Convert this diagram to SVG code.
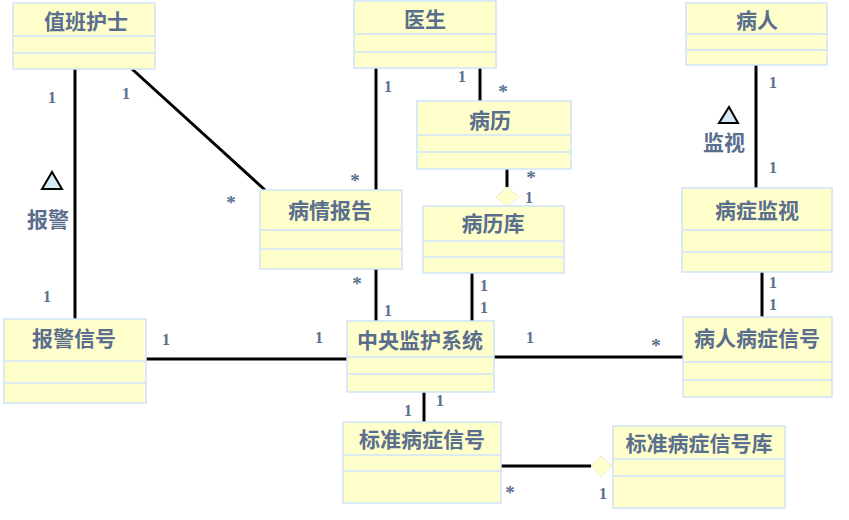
<svg xmlns="http://www.w3.org/2000/svg" width="849" height="520" viewBox="0 0 849 520">
<style>
.box{fill:#ffffcc;stroke:#cfe3f7;stroke-width:1.5}
.sep{stroke:#cfe3f7;stroke-width:1.5}
.t{font-family:"Noto Sans CJK SC","Noto Sans",sans-serif;font-size:21px;fill:#5a6e8e;text-anchor:middle;font-weight:bold}
.m{font-family:"Liberation Serif",serif;font-size:16px;font-weight:bold;fill:#5a6e8e;text-anchor:middle}
.s{font-size:19px}
.ln{stroke:#000;stroke-width:3;fill:none}
.tri{fill:#d6eaf8;stroke:#000;stroke-width:2}
.dia{fill:#ffffcc;stroke:#e8ecd0;stroke-width:1}
</style>
<rect width="849" height="520" fill="#fff"/>
<g id="connectors">
<line class="ln" x1="75" y1="69" x2="75" y2="319"/>
<line class="ln" x1="132" y1="69" x2="265" y2="190"/>
<line class="ln" x1="376" y1="68" x2="376" y2="190"/>
<line class="ln" x1="480" y1="68" x2="480" y2="101"/>
<line class="ln" x1="507" y1="169" x2="507" y2="187"/>
<polygon class="dia" points="507,187 519,197 507,207 496,197"/>
<line class="ln" x1="376" y1="269" x2="376" y2="321"/>
<line class="ln" x1="472" y1="273" x2="472" y2="321"/>
<line class="ln" x1="756" y1="65" x2="756" y2="188"/>
<line class="ln" x1="762" y1="272" x2="762" y2="317"/>
<line class="ln" x1="146" y1="359" x2="347" y2="359"/>
<line class="ln" x1="494" y1="357" x2="683" y2="357"/>
<line class="ln" x1="424" y1="392" x2="424" y2="422"/>
<line class="ln" x1="501" y1="466" x2="591" y2="466"/>
<polygon class="dia" points="591,466 601,456 612,466 601,477"/>
<polygon class="tri" points="52,172 62,189 42,189"/>
<text class="t" x="48" y="227">报警</text>
<polygon class="tri" points="729,107 738,123 719,123"/>
<text class="t" x="724" y="150">监视</text>
<text class="m" x="52" y="103">1</text>
<text class="m" x="126" y="99">1</text>
<text class="m" x="47" y="302">1</text>
<text class="m s" x="231" y="209">*</text>
<text class="m s" x="355" y="187">*</text>
<text class="m" x="388" y="92">1</text>
<text class="m" x="462" y="82">1</text>
<text class="m s" x="503" y="98">*</text>
<text class="m s" x="531" y="184">*</text>
<text class="m" x="529" y="203">1</text>
<text class="m s" x="357" y="290">*</text>
<text class="m" x="388" y="316">1</text>
<text class="m" x="484" y="291">1</text>
<text class="m" x="484" y="313">1</text>
<text class="m" x="166" y="345">1</text>
<text class="m" x="319" y="343">1</text>
<text class="m" x="773" y="88">1</text>
<text class="m" x="773" y="173">1</text>
<text class="m" x="773" y="288">1</text>
<text class="m" x="773" y="310">1</text>
<text class="m" x="530" y="343">1</text>
<text class="m s" x="656" y="352">*</text>
<text class="m" x="408" y="416">1</text>
<text class="m" x="440" y="406">1</text>
<text class="m s" x="510" y="499">*</text>
<text class="m" x="603" y="499">1</text>
</g>
<g id="n_zhibanhushi">
<rect class="box" x="13" y="3" width="142" height="66"/>
<line class="sep" x1="13" y1="36" x2="155" y2="36"/><line class="sep" x1="13" y1="53" x2="155" y2="53"/>
<text class="t" x="86" y="29">值班护士</text>
</g>
<g id="n_yisheng">
<rect class="box" x="354" y="1" width="142" height="67"/>
<line class="sep" x1="354" y1="34" x2="496" y2="34"/><line class="sep" x1="354" y1="52" x2="496" y2="52"/>
<text class="t" x="425" y="27">医生</text>
</g>
<g id="n_bingli">
<rect class="box" x="417" y="101" width="154" height="68"/>
<line class="sep" x1="417" y1="135" x2="571" y2="135"/><line class="sep" x1="417" y1="152" x2="571" y2="152"/>
<text class="t" x="490" y="128">病历</text>
</g>
<g id="n_binglik">
<rect class="box" x="423" y="206" width="141" height="67"/>
<line class="sep" x1="423" y1="241" x2="564" y2="241"/><line class="sep" x1="423" y1="257" x2="564" y2="257"/>
<text class="t" x="493" y="231">病历库</text>
</g>
<g id="n_bingren">
<rect class="box" x="686" y="3" width="141" height="62"/>
<line class="sep" x1="686" y1="34" x2="827" y2="34"/><line class="sep" x1="686" y1="50" x2="827" y2="50"/>
<text class="t" x="757" y="28">病人</text>
</g>
<g id="n_bingzhengjianshi">
<rect class="box" x="682" y="188" width="150" height="84"/>
<line class="sep" x1="682" y1="230" x2="832" y2="230"/><line class="sep" x1="682" y1="252" x2="832" y2="252"/>
<text class="t" x="757" y="218">病症监视</text>
</g>
<g id="n_bingqingbaogao">
<rect class="box" x="260" y="190" width="142" height="79"/>
<line class="sep" x1="260" y1="230" x2="402" y2="230"/><line class="sep" x1="260" y1="249" x2="402" y2="249"/>
<text class="t" x="330" y="218">病情报告</text>
</g>
<g id="n_baojingxinhao">
<rect class="box" x="4" y="319" width="142" height="84"/>
<line class="sep" x1="4" y1="361" x2="146" y2="361"/><line class="sep" x1="4" y1="383" x2="146" y2="383"/>
<text class="t" x="74" y="346">报警信号</text>
</g>
<g id="n_zhongyang">
<rect class="box" x="347" y="321" width="147" height="71"/>
<line class="sep" x1="347" y1="357" x2="494" y2="357"/><line class="sep" x1="347" y1="374" x2="494" y2="374"/>
<text class="t" x="420" y="348">中央监护系统</text>
</g>
<g id="n_bingrenbingzheng">
<rect class="box" x="683" y="317" width="149" height="80"/>
<line class="sep" x1="683" y1="362" x2="832" y2="362"/><line class="sep" x1="683" y1="380" x2="832" y2="380"/>
<text class="t" x="757" y="346">病人病症信号</text>
</g>
<g id="n_biaozhun">
<rect class="box" x="343" y="422" width="158" height="81"/>
<line class="sep" x1="343" y1="455" x2="501" y2="455"/><line class="sep" x1="343" y1="471" x2="501" y2="471"/>
<text class="t" x="422" y="447">标准病症信号</text>
</g>
<g id="n_biaozhunku">
<rect class="box" x="613" y="426" width="172" height="82"/>
<line class="sep" x1="613" y1="459" x2="785" y2="459"/><line class="sep" x1="613" y1="476" x2="785" y2="476"/>
<text class="t" x="699" y="451">标准病症信号库</text>
</g>
</svg>
